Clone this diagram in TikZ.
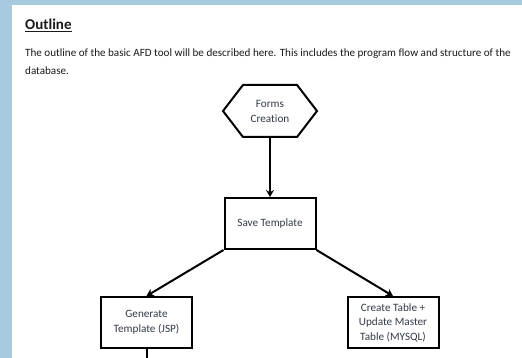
\documentclass[tikz,border=0pt]{standalone}
\usepackage{fontspec}
\setmainfont[Ligatures=NoCommon]{Carlito}
\usetikzlibrary{shapes.geometric, shapes.symbols, arrows.meta, positioning}
\definecolor{pageblue}{HTML}{A7CADF}
\definecolor{inkgrey}{HTML}{333A48}
\definecolor{textblack}{HTML}{1A1A1A}

\begin{document}
\begin{tikzpicture}[x=1pt, y=-1pt,
  hexbox/.style={signal, signal to=west and east, signal pointer angle=105, draw, line width=2pt, fill=white, text=inkgrey, minimum width=94pt, minimum height=52pt, inner sep=0pt, align=center, font=\fontsize{11.2}{15}\selectfont},
  stepbox/.style={rectangle, draw, line width=2pt, fill=white, text=inkgrey, minimum width=91pt, minimum height=51pt, inner sep=0pt, align=center, font=\fontsize{11.2}{14.5}\selectfont},
  arrow/.style={-{Stealth[length=7pt, width=8pt]}, line width=2pt},
  line/.style={draw, line width=2pt}
]
\useasboundingbox (0,0) rectangle (522,358);
% Seite
\fill[pageblue] (0,0) rectangle (522,358);
\fill[white] (12,5) rectangle (522,358);

% Kopf
\node[anchor=base west, inner sep=0pt, text=textblack, font=\fontsize{15}{18}\selectfont\bfseries] (title) at (25,30) {\underline{Outline}};
\node[anchor=north west, inner sep=0pt, align=left, text=textblack, font=\fontsize{11.1}{18}\selectfont] (intro) at (25,48.5)
  {The outline of the basic AFD tool will be described here. This includes the program flow and structure of the\\database.};

% Ablauf
\node[hexbox] (forms) at (270,111) {Forms\\Creation};
\node[stepbox] (save) at (270,223.5) {Save Template};
\node[stepbox] (gen) at (146.5,322.5) {Generate\\Template (JSP)};
\node[stepbox] (tbl) at (393,322.5) {Create Table +\\Update Master\\Table (MYSQL)};
\coordinate (cut) at (146.5,358);

% Verbindungen
\draw[arrow] (forms) -- (save);
\draw[arrow] (save.south west) -- (gen.north);
\draw[arrow] (save.south east) -- (tbl.north);
\draw[line] (gen) -- (cut);
\end{tikzpicture}
\end{document}
